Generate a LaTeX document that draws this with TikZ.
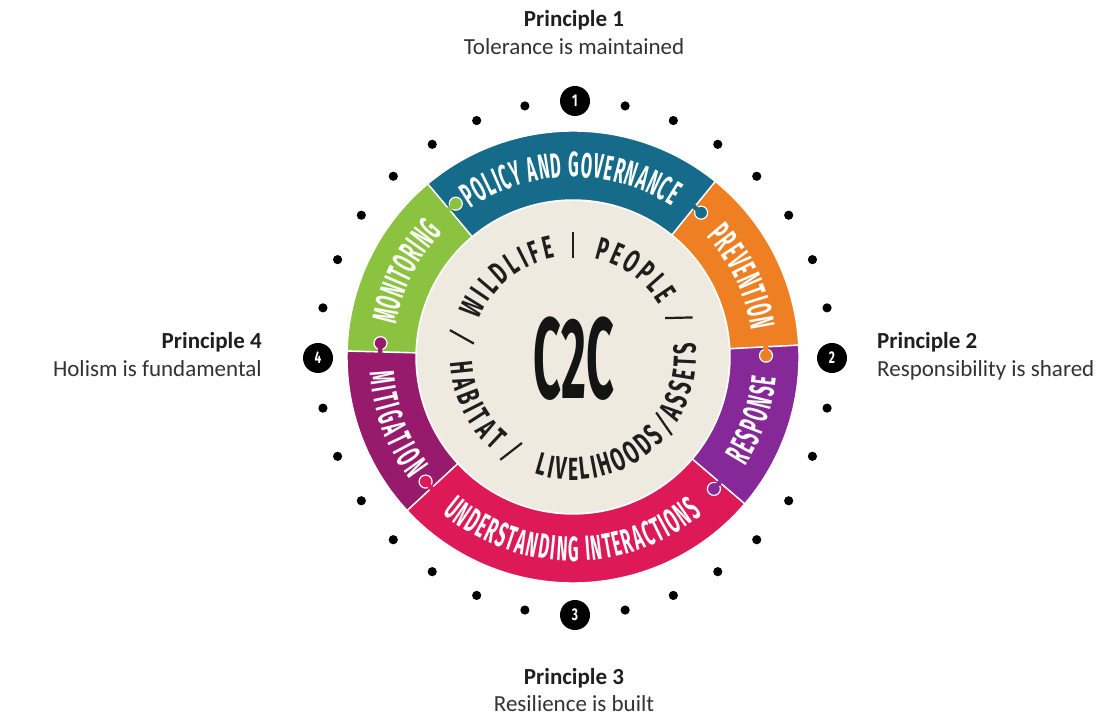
\documentclass[tikz,border=0pt]{standalone}
\usepackage{fontspec}
\setmainfont{Carlito}
\newfontfamily\ringfont{Fira Sans}[FakeStretch=0.47]
\newfontfamily\innerfont{Fira Sans}[FakeStretch=0.6]
\newfontfamily\bigfont{Fira Sans}[FakeStretch=0.42]
\newfontfamily\numfont{Fira Sans}[FakeStretch=0.7]
\usetikzlibrary{decorations.text}
\definecolor{cpolicy}{RGB}{22,107,138}
\definecolor{cgreen}{RGB}{139,195,64}
\definecolor{corange}{RGB}{239,127,35}
\definecolor{cresp}{RGB}{134,40,152}
\definecolor{cmitig}{RGB}{152,26,108}
\definecolor{cpink}{RGB}{222,25,88}
\definecolor{ccream}{RGB}{238,234,224}
\definecolor{cdark}{RGB}{30,30,30}
\begin{document}
\begin{tikzpicture}[x=1pt,y=1pt,
  seg/.style={fill=#1, draw=white, line width=1.4pt},
  ringtext/.style={decorate, decoration={text along path, text align=fit to path, raise=-12pt, text color=white, text={|\ringfont\bfseries\fontsize{35}{35}\selectfont|#1}}},
  innertext/.style={decorate, decoration={text along path, text align=fit to path, raise=-11pt, text color=cdark, text={|\innerfont\bfseries\fontsize{32}{32}\selectfont|#1}}},
  sepline/.style={draw=cdark, line width=2.2pt},
  smalldot/.style={fill=black},
  numc/.style={circle, fill=black, minimum size=30pt, inner sep=0pt, text=white, font=\numfont\bfseries\fontsize{17}{17}\selectfont},
  ptitle/.style={font=\bfseries\fontsize{23}{27}\selectfont, text=black!88, inner sep=0pt},
  psub/.style={font=\fontsize{23}{27}\selectfont, text=black!80, inner sep=0pt}
]
\useasboundingbox (0,0) rectangle (1106,717);
\fill[white] (0,0) rectangle (1106,717);

\begin{scope}[shift={(573,360)}]
  % cream centre
  \path[fill=ccream, draw=white, line width=2pt] (0,0) circle (157pt);
  % ring segments
  \path[seg=corange] (3:157pt) arc[start angle=3,end angle=51,radius=157pt] -- (51:226pt) arc[start angle=51,end angle=3,radius=226pt] -- cycle;
  \path[seg=cpolicy] (51:157pt) arc[start angle=51,end angle=130,radius=157pt] -- (130:226pt) arc[start angle=130,end angle=51,radius=226pt] -- cycle;
  \path[seg=cgreen] (130:157pt) arc[start angle=130,end angle=178.5,radius=157pt] -- (178.5:226pt) arc[start angle=178.5,end angle=130,radius=226pt] -- cycle;
  \path[seg=cmitig] (178.5:157pt) arc[start angle=178.5,end angle=222.8,radius=157pt] -- (222.8:226pt) arc[start angle=222.8,end angle=178.5,radius=226pt] -- cycle;
  \path[seg=cpink] (222.8:157pt) arc[start angle=222.8,end angle=319.5,radius=157pt] -- (319.5:226pt) arc[start angle=319.5,end angle=222.8,radius=226pt] -- cycle;
  \path[seg=cresp] (319.5:157pt) arc[start angle=319.5,end angle=363,radius=157pt] -- (363:226pt) arc[start angle=363,end angle=319.5,radius=226pt] -- cycle;
  % puzzle knobs
  \foreach \b/\c in {51/cpolicy,130/cgreen,178.5/cmitig,222.8/cpink,319.5/cresp,363/corange}{
    \path[fill=\c, draw=white, line width=1.2pt] ({\b-2.6}:193pt) circle (6.5pt);
    \draw[color=\c, line width=4.5pt] ({\b+0.8}:193pt) -- ({\b-2.2}:193pt);
  }
  % ring texts
  \path[ringtext={POLICY AND GOVERNANCE}] (124.5:192pt) arc[start angle=124.5,end angle=57,radius=192pt];
  \path[ringtext={MONITORING}] (169.5:192pt) arc[start angle=169.5,end angle=136.5,radius=192pt];
  \path[ringtext={PREVENTION}] (42:192pt) arc[start angle=42,end angle=8.5,radius=192pt];
  \path[ringtext={RESPONSE}] (-32.5:192pt) arc[start angle=-32.5,end angle=-5.8,radius=192pt];
  \path[ringtext={MITIGATION}] (184.3:192pt) arc[start angle=184.3,end angle=217,radius=192pt];
  \path[ringtext={UNDERSTANDING INTERACTIONS}] (230:192pt) arc[start angle=230,end angle=309.5,radius=192pt];
  % inner texts
  \path[innertext={WILDLIFE}] (158:112pt) arc[start angle=158,end angle=100.5,radius=112pt];
  \path[innertext={PEOPLE}] (77.5:112pt) arc[start angle=77.5,end angle=31.5,radius=112pt];
  \path[innertext={HABITAT}] (182.5:112pt) arc[start angle=182.5,end angle=229.5,radius=112pt];
  \path[innertext={LIVELIHOODS}] (251.5:112pt) arc[start angle=251.5,end angle=318.5,radius=112pt];
  \path[innertext={ASSETS}] (327.5:112pt) arc[start angle=327.5,end angle=367,radius=112pt];
  % separators
  \path[sepline] (90:99pt) -- (90:125pt);
  \path[sepline] (172.3:100pt) -- (167.7:126pt);
  \path[sepline] (22.9:100pt) -- (18.3:126pt);
  \path[sepline] (234.7:126pt) -- (239.3:100pt);
  \path[sepline] (321.7:126pt) -- (326.3:100pt);
  % centre label
  \node[font=\bigfont\bfseries\fontsize{115}{115}\selectfont, text=black!92, inner sep=0pt] (c2c) at (1,-2) {C2C};
\end{scope}

\begin{scope}[shift={(575,359)}]
  \foreach \q in {0,90,180,270}{
    \foreach \j in {1,...,7}{
      \path[smalldot] ({\q+\j*11.25}:257pt) circle (4.6pt);
    }
  }
  \node[numc] (n1) at (90:257pt) {1};
  \node[numc] (n2) at (0:257pt) {2};
  \node[numc] (n3) at (270:257pt) {3};
  \node[numc] (n4) at (180:257pt) {4};
\end{scope}

% principle labels
\node[ptitle, anchor=base] (p1a) at (574,690) {Principle 1};
\node[psub, anchor=base] (p1b) at (574,662) {Tolerance is maintained};
\node[ptitle, anchor=base east] (p4a) at (262,368) {Principle 4};
\node[psub, anchor=base east] (p4b) at (262,340) {Holism is fundamental};
\node[ptitle, anchor=base west] (p2a) at (877,368) {Principle 2};
\node[psub, anchor=base west] (p2b) at (877,340) {Responsibility is shared};
\node[ptitle, anchor=base] (p3a) at (574,32) {Principle 3};
\node[psub, anchor=base] (p3b) at (574,5) {Resilience is built};
\end{tikzpicture}
\end{document}
